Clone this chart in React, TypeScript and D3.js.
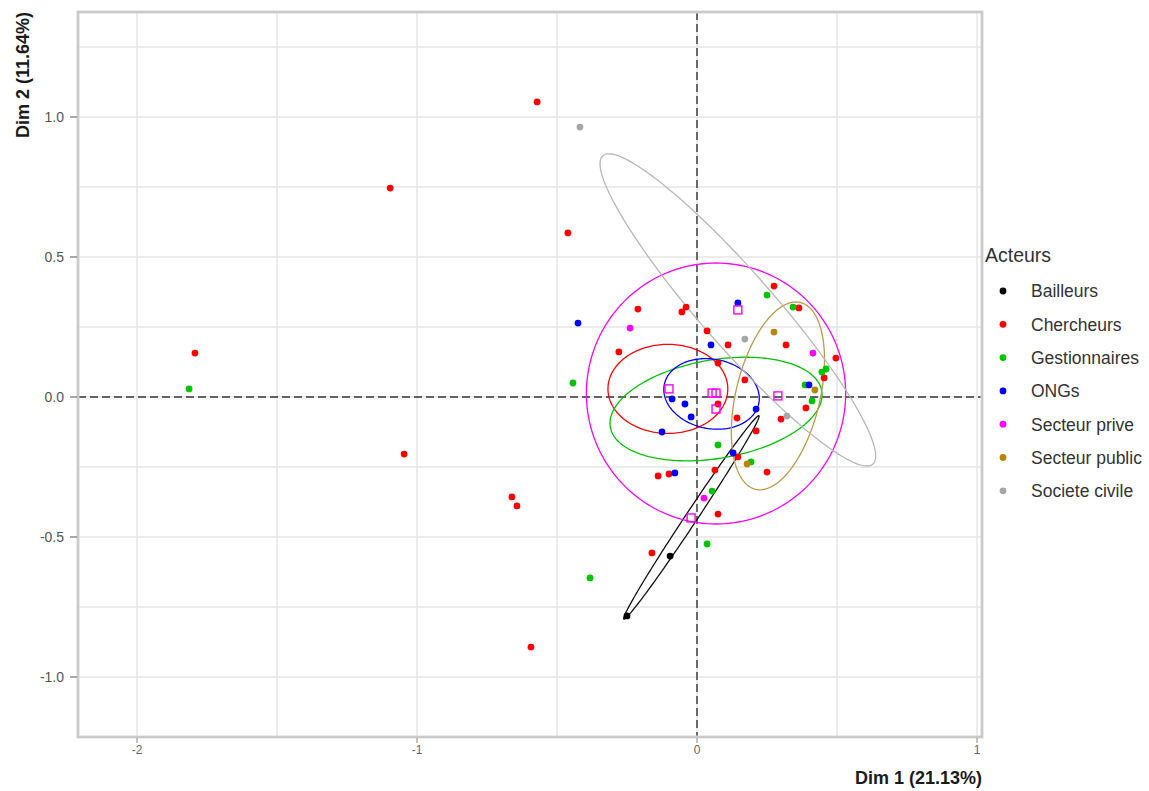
import React from 'react';
import * as d3 from 'd3';

type P = [number, number];

const GROUPS = ['Bailleurs', 'Chercheurs', 'Gestionnaires', 'ONGs', 'Secteur prive', 'Secteur public', 'Societe civile'];
const COLORS = ['#000000', '#FF0000', '#00C400', '#0000FF', '#FF00FF', '#B8860B', '#A6A6A6'];
const ELLIPSE_COLORS = ['#111111', '#FF0000', '#00C400', '#0000FF', '#FF00FF', '#BF9A4A', '#B8B8B8'];

const bailleurs: P[] = [[-0.096, -0.568], [-0.25, -0.782]];
const chercheurs: P[] = [
  [-0.571, 1.054], [-1.096, 0.746], [-0.461, 0.586], [-1.793, 0.157], [-1.046, -0.204],
  [-0.661, -0.357], [-0.643, -0.389], [-0.593, -0.893], [-0.211, 0.314], [-0.054, 0.304],
  [-0.039, 0.321], [0.036, 0.236], [-0.279, 0.161], [0.275, 0.396], [0.364, 0.318],
  [0.111, 0.186], [0.318, 0.186], [0.496, 0.139], [0.454, 0.068], [0.389, -0.039],
  [0.171, 0.061], [0.075, 0.121], [0.075, -0.025], [0.143, -0.075], [0.3, -0.079],
  [0.211, -0.121], [0.146, -0.214], [0.25, -0.268], [-0.139, -0.282], [-0.1, -0.275],
  [0.064, -0.261], [0.075, -0.418], [-0.161, -0.557],
];
const gestionnaires: P[] = [
  [-1.814, 0.029], [-0.443, 0.05], [-0.382, -0.646], [0.25, 0.364], [0.343, 0.321],
  [0.446, 0.089], [0.461, 0.1], [0.386, 0.043], [0.411, -0.014], [0.075, -0.171],
  [0.193, -0.232], [0.054, -0.336], [0.036, -0.525],
];
const ongs: P[] = [
  [-0.425, 0.264], [0.146, 0.336], [0.05, 0.186], [0.4, 0.043], [-0.089, -0.007],
  [-0.043, -0.025], [-0.021, -0.071], [-0.125, -0.125], [0.211, -0.043], [-0.079, -0.271],
  [0.129, -0.2],
];
const secteurPrive: P[] = [[-0.239, 0.246], [0.414, 0.157], [0.025, -0.361]];
const secteurPublic: P[] = [[0.275, 0.232], [0.421, 0.025], [0.179, -0.239]];
const societeCivile: P[] = [[-0.418, 0.964], [0.171, 0.207], [0.321, -0.068]];

const SERIES: P[][] = [bailleurs, chercheurs, gestionnaires, ongs, secteurPrive, secteurPublic, societeCivile];

// group means (drawn as open squares)
const groupMeans: P[] = [
  [-0.021, -0.432], [-0.1, 0.029], [0.068, -0.043], [0.054, 0.014],
  [0.068, 0.014], [0.289, 0.004], [0.146, 0.311],
];

// confidence ellipses: centre, semi-axes, angle (degrees, data space)
const ellipseCenters: P[] = [
  [-0.02, -0.43], [-0.104, 0.029], [0.068, -0.043], [0.052, 0.011],
  [0.068, 0.0125], [0.289, 0.004], [0.146, 0.311],
];
const ellipseAxes: P[] = [
  [0.436, 0.021], [0.214, 0.159], [0.383, 0.176], [0.172, 0.124],
  [0.463, 0.466], [0.343, 0.15], [0.732, 0.132],
];
const ellipseAngles: number[] = [56.4, 0, 9.7, -11, 0, 76.5, -48.8];

const X_DOMAIN: P = [-2.2107, 1.0179];
const Y_DOMAIN: P = [-1.2143, 1.375];
const X_TICKS = [-2, -1, 0, 1];
const X_TICK_LABELS = ['-2', '-1', '0', '1'];
const X_GRID = [-2, -1.5, -1, -0.5, 0, 0.5, 1];
const Y_TICKS = [-1, -0.5, 0, 0.5, 1];
const Y_TICK_LABELS = ['-1.0', '-0.5', '0.0', '0.5', '1.0'];
const Y_GRID = [-1, -0.75, -0.5, -0.25, 0, 0.25, 0.5, 0.75, 1, 1.25];

const W = 1149;
const H = 791;
const PL = 78, PR = 982, PT = 12, PB = 737;

export default function App() {
  const x = d3.scaleLinear().domain(X_DOMAIN).range([PL, PR]);
  const y = d3.scaleLinear().domain(Y_DOMAIN).range([PB, PT]);

  const ellipsePath = (i: number) => {
    const [cx, cy] = ellipseCenters[i];
    const [a, b] = ellipseAxes[i];
    const phi = (ellipseAngles[i] * Math.PI) / 180;
    const pts: P[] = d3.range(0, 2 * Math.PI, Math.PI / 90).map((t) => {
      const ex = a * Math.cos(t);
      const ey = b * Math.sin(t);
      return [cx + ex * Math.cos(phi) - ey * Math.sin(phi), cy + ex * Math.sin(phi) + ey * Math.cos(phi)];
    });
    return d3.line<P>().x((d) => x(d[0])).y((d) => y(d[1])).curve(d3.curveLinearClosed)(pts) || '';
  };

  const font = '"Liberation Sans", Arial, sans-serif';

  return (
    <svg width={W} height={H} style={{ position: 'absolute', left: 0, top: 0, background: '#fff' }} fontFamily={font}>
      <rect x={0} y={0} width={W} height={H} fill="#fff" />
      <defs>
        <clipPath id="panel">
          <rect x={PL} y={PT} width={PR - PL} height={PB - PT} />
        </clipPath>
      </defs>
      {/* grid */}
      {Y_GRID.map((v) => (
        <line key={'gy' + v} x1={PL} x2={PR} y1={y(v)} y2={y(v)} stroke="#e6e6e6" strokeWidth={1.5} />
      ))}
      {X_GRID.map((v) => (
        <line key={'gx' + v} x1={x(v)} x2={x(v)} y1={PT} y2={PB} stroke="#e6e6e6" strokeWidth={1.5} />
      ))}
      {/* reference dashed lines */}
      <line x1={PL} x2={PR} y1={y(0)} y2={y(0)} stroke="#333" strokeWidth={1.4} strokeDasharray="8,4" />
      <line x1={x(0)} x2={x(0)} y1={PT} y2={PB} stroke="#333" strokeWidth={1.4} strokeDasharray="8,4" />
      <g clipPath="url(#panel)">
        {GROUPS.map((g, i) => (
          <path key={'e' + g} d={ellipsePath(i)} fill="none" stroke={ELLIPSE_COLORS[i]} strokeWidth={1.3} />
        ))}
        {SERIES.map((s, i) =>
          s.map((d, j) => <circle key={'p' + i + '-' + j} cx={x(d[0])} cy={y(d[1])} r={3.4} fill={COLORS[i]} />)
        )}
        {groupMeans.map((d, i) => (
          <rect key={'m' + i} x={x(d[0]) - 4} y={y(d[1]) - 4} width={8} height={8} fill="none" stroke="#FF00FF" strokeWidth={1.4} />
        ))}
      </g>
      {/* panel border */}
      <rect x={PL} y={PT} width={PR - PL} height={PB - PT} fill="none" stroke="#d6d6d6" strokeWidth={3} />
      <rect x={PL} y={PT} width={PR - PL} height={PB - PT} fill="none" stroke="#bdbdbd" strokeWidth={1} />
      {/* y axis */}
      {Y_TICKS.map((v, i) => (
        <g key={'yt' + v}>
          <line x1={PL - 8} x2={PL - 1} y1={y(v)} y2={y(v)} stroke="#555" strokeWidth={1} />
          <text x={PL - 14} y={y(v)} dy="0.36em" textAnchor="end" fontSize={14} fill="#555">
            {Y_TICK_LABELS[i]}
          </text>
        </g>
      ))}
      {/* x axis */}
      {X_TICKS.map((v, i) => (
        <g key={'xt' + v}>
          <line x1={x(v)} x2={x(v)} y1={PB + 1} y2={PB + 6} stroke="#888" strokeWidth={1} />
          <text x={x(v)} y={y(-1.2143) + 17} textAnchor="middle" fontSize={12} fill="#666">
            {X_TICK_LABELS[i]}
          </text>
        </g>
      ))}
      <text x={PR} y={784} textAnchor="end" fontSize={18} fontWeight="bold" fill="#1a1a1a">
        Dim 1 (21.13%)
      </text>
      <text transform={`translate(29, ${PT}) rotate(-90)`} textAnchor="end" fontSize={18} fontWeight="bold" fill="#1a1a1a">
        Dim 2 (11.64%)
      </text>
      {/* legend */}
      <text x={985} y={262} fontSize={19.5} fill="#333">Acteurs</text>
      {GROUPS.map((g, i) => (
        <g key={'l' + g} transform={`translate(0, ${291 + i * 33.3})`}>
          <circle cx={1003} cy={0} r={3.4} fill={COLORS[i]} />
          <text x={1031} y={0} dy="0.36em" fontSize={17.5} fill="#333">
            {g}
          </text>
        </g>
      ))}
    </svg>
  );
}
